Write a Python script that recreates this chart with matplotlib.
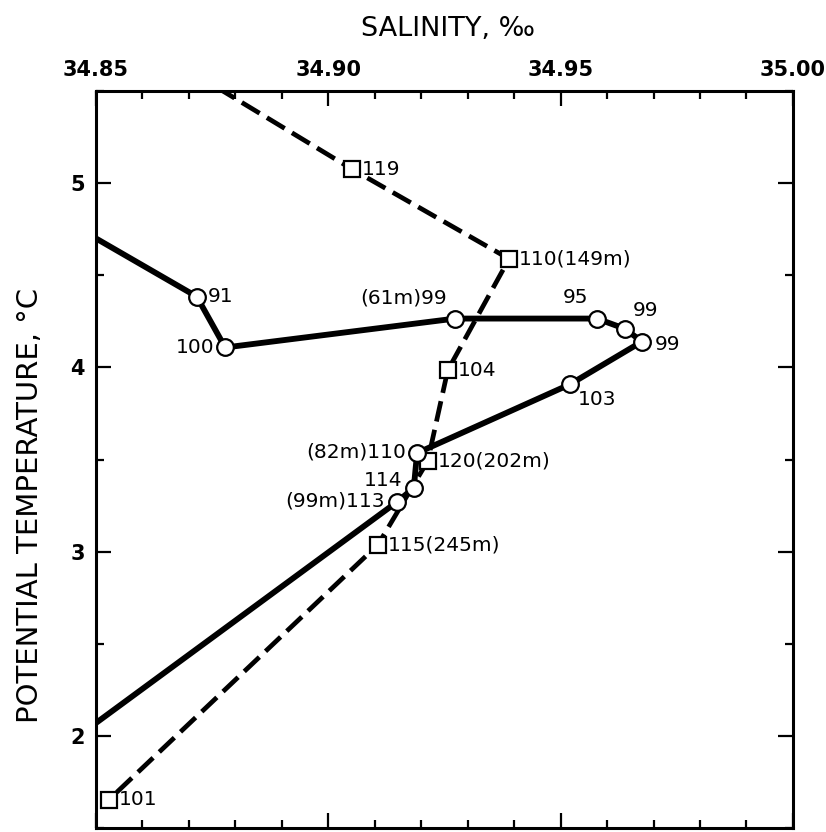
import matplotlib.pyplot as plt
from matplotlib.ticker import MultipleLocator

# station with circles (solid line), running from upper left down to lower left
sal_a = [34.8500, 34.8717, 34.8778, 34.9273, 34.9578, 34.9638, 34.9675,
         34.9520, 34.9191, 34.9184, 34.9148, 34.8500]
temp_a = [4.70, 4.384, 4.108, 4.265, 4.265, 4.210, 4.140,
          3.908, 3.535, 3.346, 3.270, 2.07]
lab_a = [None, "91", "100", "(61m)99", "95", "99", "99",
         "103", "(82m)110", "114", "(99m)113", None]

# station with squares (dashed line)
sal_b = [34.8760, 34.9051, 34.9389, 34.9257, 34.9214, 34.9107, 34.8528]
temp_b = [5.52, 5.076, 4.589, 3.984, 3.492, 3.038, 1.654]
lab_b = [None, "119", "110(149m)", "104", "120(202m)", "115(245m)", "101"]

# label placement: (dx, dy) in points and alignment
pos_a = {
    "91": (8, 0, "left", "center"),
    "100": (-8, 0, "right", "center"),
    "(61m)99": (-6, 8, "right", "bottom"),
    "95": (-6, 8, "right", "bottom"),
    "99": (6, 6, "left", "bottom"),
    "103": (6, -4, "left", "top"),
    "(82m)110": (-8, 1, "right", "center"),
    "114": (-8, 5, "right", "center"),
    "(99m)113": (-9, 1, "right", "center"),
}

fig = plt.figure(figsize=(8.26, 8.32), dpi=100)
ax = fig.add_axes([0.1162, 0.0048, 0.8438, 0.8858])

ax.plot(sal_a, temp_a, color="black", lw=4.2, solid_joinstyle="round",
        marker="o", ms=12, mfc="white", mec="black", mew=1.6,
        markevery=list(range(1, len(sal_a) - 1)), zorder=3)
ax.plot(sal_b, temp_b, color="black", lw=3.4, dashes=(4.4, 1.8),
        marker="s", ms=11, mfc="white", mec="black", mew=1.6,
        markevery=list(range(1, len(sal_b))), zorder=2)

lfont = dict(fontsize=14.5, family="DejaVu Sans", color="black")
for i, (x, y, t) in enumerate(zip(sal_a, temp_a, lab_a)):
    if t is None:
        continue
    dx, dy, ha, va = pos_a[t]
    if t == "99" and i == 6:
        dx, dy, ha, va = (9, -2, "left", "center")
    ax.annotate(t, (x, y), xytext=(dx, dy), textcoords="offset points",
                ha=ha, va=va, zorder=5, **lfont)
for x, y, t in zip(sal_b, temp_b, lab_b):
    if t is None:
        continue
    ax.annotate(t, (x, y), xytext=(7, 0), textcoords="offset points",
                ha="left", va="center", zorder=5, **lfont)

ax.set_xlim(34.85, 35.00)
ax.set_ylim(1.5, 5.5)
ax.xaxis.set_major_locator(MultipleLocator(0.05))
ax.xaxis.set_minor_locator(MultipleLocator(0.01))
ax.yaxis.set_major_locator(MultipleLocator(1))
ax.yaxis.set_minor_locator(MultipleLocator(0.5))
ax.xaxis.set_major_formatter(plt.FormatStrFormatter("%.2f"))
ax.tick_params(which="both", direction="in", top=True, right=True,
               bottom=True, left=True, labeltop=True, labelbottom=False,
               width=1.6, labelsize=15)
ax.tick_params(which="major", length=11, pad=8)
ax.tick_params(which="minor", length=6)
for lbl in ax.get_xticklabels() + ax.get_yticklabels():
    lbl.set_fontweight("bold")
for s in ax.spines.values():
    s.set_linewidth(2.2)

fig.text(0.542, 0.965, "SALINITY, ‰", ha="center", va="center",
         fontsize=19.5, family="DejaVu Sans")
fig.text(0.036, 0.393, "POTENTIAL TEMPERATURE, °C", ha="center", va="center",
         rotation=90, fontsize=21, family="DejaVu Sans")

fig.savefig("out.png", dpi=100)
